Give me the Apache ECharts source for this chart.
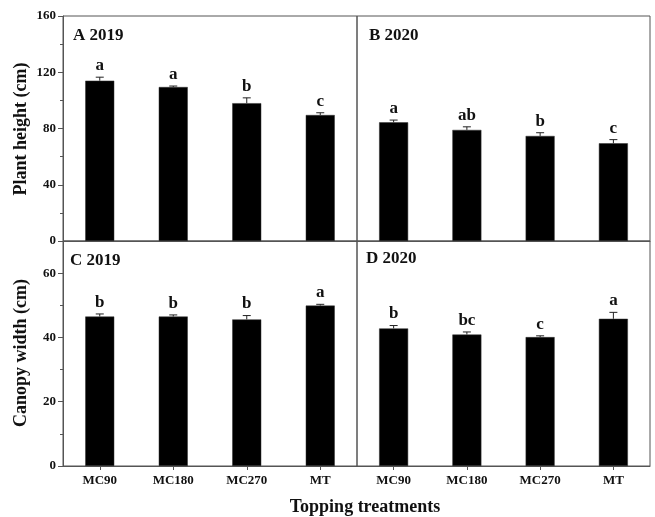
<!DOCTYPE html>
<html>
<head>
<meta charset="utf-8">
<script src="https://cdn.jsdelivr.net/npm/echarts@6/dist/echarts.min.js"></script>
<style>
  html, body { margin: 0; padding: 0; background: #fff; }
  #chart { width: 655px; height: 517px; }
</style>
</head>
<body>
<div id="chart"></div>
<script>
// Topping treatments
const categories = ['MC90', 'MC180', 'MC270', 'MT'];

// Plant height (cm), mean and SE
const height2019 = [114.0, 109.5, 98.0, 89.6];
const heightErr2019 = [2.5, 0.7, 3.8, 1.6];
const heightLetters2019 = ['a', 'a', 'b', 'c'];
const height2020 = [84.4, 79.0, 74.7, 69.5];
const heightErr2020 = [1.6, 2.2, 2.3, 2.6];
const heightLetters2020 = ['a', 'ab', 'b', 'c'];

// Canopy width (cm), mean and SE
const width2019 = [46.5, 46.5, 45.6, 49.9];
const widthErr2019 = [0.8, 0.5, 1.2, 0.4];
const widthLetters2019 = ['b', 'b', 'b', 'a'];
const width2020 = [42.8, 40.9, 40.1, 45.8];
const widthErr2020 = [0.9, 0.8, 0.4, 2.0];
const widthLetters2020 = ['b', 'bc', 'c', 'a'];

// Axis ranges
const heightAxis = { min: 0, max: 160, interval: 40 };
const widthAxis = { min: 0, max: 70, interval: 20 };

const serif = '"Liberation Serif", "Times New Roman", serif';
const frameColor = '#555';

const chart = echarts.init(document.getElementById('chart'), null, { renderer: 'canvas' });

const grids = [
  { left: 63, top: 16, width: 294, height: 225 },
  { left: 357, top: 16, width: 293, height: 225 },
  { left: 63, top: 241, width: 294, height: 225 },
  { left: 357, top: 241, width: 293, height: 225 }
].map(g => Object.assign({ show: true, borderColor: frameColor, borderWidth: 1, backgroundColor: 'transparent' }, g));

function xAxisFor(idx, bottom) {
  return {
    type: 'category',
    gridIndex: idx,
    data: categories,
    axisLine: { show: true, lineStyle: { color: frameColor, width: 1 } },
    axisTick: { show: bottom, alignWithLabel: true, length: 4, lineStyle: { color: frameColor } },
    axisLabel: {
      show: bottom, margin: 8, color: '#111',
      fontFamily: serif, fontWeight: 'bold', fontSize: 13
    }
  };
}

function yAxisFor(idx, range, left) {
  return {
    type: 'value',
    gridIndex: idx,
    min: range.min, max: range.max, interval: range.interval,
    show: left,
    splitLine: { show: false },
    axisLine: { show: true, lineStyle: { color: frameColor, width: 1 } },
    axisTick: { show: true, length: 5, lineStyle: { color: frameColor } },
    minorTick: { show: true, splitNumber: 2, length: 3, lineStyle: { color: frameColor } },
    axisLabel: {
      margin: 7, color: '#111', showMaxLabel: range.max % range.interval === 0,
      fontFamily: serif, fontWeight: 'bold', fontSize: 13
    }
  };
}

function barSeries(idx, values) {
  return {
    type: 'bar',
    xAxisIndex: idx, yAxisIndex: idx,
    data: values,
    barWidth: 29,
    itemStyle: { color: '#000', borderColor: '#333', borderWidth: 0.5 },
    silent: true,
    z: 2
  };
}

// Upper error bar with cap and significance letter above it
function errorSeries(idx, values, errs, letters) {
  return {
    type: 'custom',
    xAxisIndex: idx, yAxisIndex: idx,
    data: values.map((v, i) => [i, v, errs[i]]),
    encode: { x: 0, y: 1 },
    silent: true,
    z: 3,
    renderItem: function (params, api) {
      const i = api.value(0);
      const base = api.coord([i, api.value(1)]);
      const top = api.coord([i, api.value(1) + api.value(2)]);
      const capHalf = 4;
      const lineStyle = { stroke: '#222', lineWidth: 1 };
      return {
        type: 'group',
        children: [
          { type: 'line', shape: { x1: base[0], y1: base[1], x2: top[0], y2: top[1] }, style: lineStyle },
          { type: 'line', shape: { x1: top[0] - capHalf, y1: top[1], x2: top[0] + capHalf, y2: top[1] }, style: lineStyle },
          {
            type: 'text',
            style: {
              text: letters[params.dataIndex],
              x: top[0], y: top[1] - 3,
              textAlign: 'center', textVerticalAlign: 'bottom',
              fontFamily: serif, fontWeight: 'bold', fontSize: 17, fill: '#111'
            }
          }
        ]
      };
    }
  };
}

function panelLabel(text, x, y) {
  return {
    type: 'text', left: x, top: y,
    style: { text: text, fontFamily: serif, fontWeight: 'bold', fontSize: 17, fill: '#111' },
    z: 10
  };
}

function axisTitle(text, x, y, rotate) {
  return {
    type: 'text', x: x, y: y, rotation: rotate ? Math.PI / 2 : 0,
    style: {
      text: text, fontFamily: serif, fontWeight: 'bold', fontSize: 18, fill: '#111',
      textAlign: 'center', textVerticalAlign: 'middle'
    },
    z: 10
  };
}

chart.setOption({
  animation: false,
  backgroundColor: '#fff',
  grid: grids,
  xAxis: [xAxisFor(0, false), xAxisFor(1, false), xAxisFor(2, true), xAxisFor(3, true)],
  yAxis: [
    yAxisFor(0, heightAxis, true), yAxisFor(1, heightAxis, false),
    yAxisFor(2, widthAxis, true), yAxisFor(3, widthAxis, false)
  ],
  series: [
    barSeries(0, height2019), errorSeries(0, height2019, heightErr2019, heightLetters2019),
    barSeries(1, height2020), errorSeries(1, height2020, heightErr2020, heightLetters2020),
    barSeries(2, width2019), errorSeries(2, width2019, widthErr2019, widthLetters2019),
    barSeries(3, width2020), errorSeries(3, width2020, widthErr2020, widthLetters2020)
  ],
  graphic: [
    panelLabel('A 2019', 73, 27),
    panelLabel('B 2020', 369, 27),
    panelLabel('C 2019', 70, 252),
    panelLabel('D 2020', 366, 250),
    axisTitle('Plant height (cm)', 21, 129, true),
    axisTitle('Canopy width (cm)', 21, 353, true),
    axisTitle('Topping treatments', 365, 507, false)
  ]
});
</script>
</body>
</html>
